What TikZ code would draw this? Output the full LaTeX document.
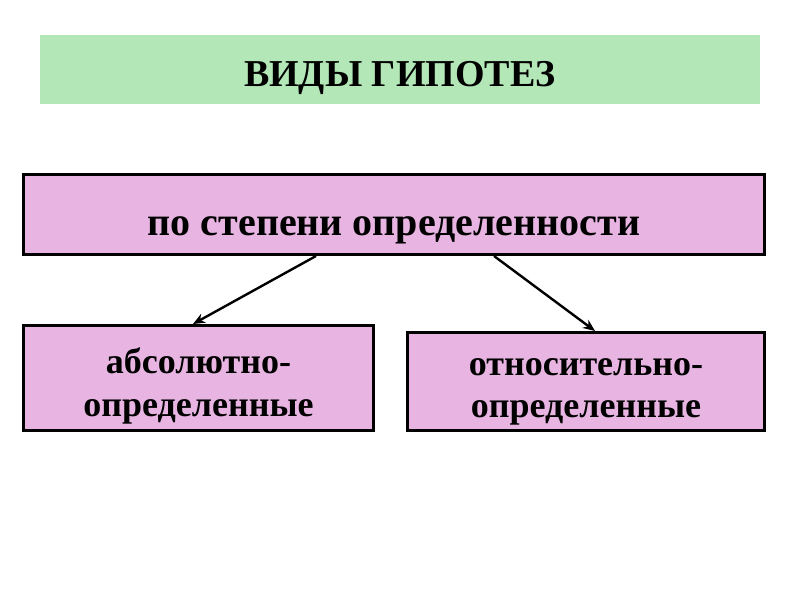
\documentclass[tikz,border=0pt]{standalone}
\usepackage{fontspec}
\setmainfont{Liberation Serif}
\usetikzlibrary{arrows.meta}

\definecolor{titlegreen}{RGB}{179,231,183}
\definecolor{boxpink}{RGB}{232,180,226}

\tikzset{
  titlebox/.style={rectangle,fill=titlegreen,font=\fontsize{38}{44}\selectfont\bfseries},
  kindbox/.style={rectangle,draw=black,line width=3pt,fill=boxpink,align=center},
  kindarrow/.style={line width=2.4pt,-{Stealth[length=12pt,width=10pt]}}
}

\begin{document}
\begin{tikzpicture}[x=1pt,y=-1pt]
\useasboundingbox (0,0) rectangle (800,600);
\node [titlebox,minimum width=720pt,minimum height=69pt,text height=33pt,text depth=0pt] (title) at (400,69.5) {ВИДЫ ГИПОТЕЗ};
\node [kindbox,minimum width=741pt,minimum height=80pt,text height=41pt,text depth=0pt,
       font=\fontsize{40}{46}\selectfont\bfseries] (degree) at (394,214.5) {по степени определенности};
\node [kindbox,minimum width=350pt,minimum height=105pt,text height=76pt,text depth=0pt,
       font=\fontsize{36}{43}\selectfont\bfseries] (absolute) at (198.5,378) {абсолютно-\\определенные};
\node [kindbox,minimum width=357pt,minimum height=98pt,text height=71pt,text depth=0pt,
       font=\fontsize{36}{42}\selectfont\bfseries] (relative) at (586,381.5) {относительно-\\определенные};
% arrows
\draw [kindarrow] ([xshift=-78pt]degree.south) -- ([xshift=-5.5pt]absolute.north);
\draw [kindarrow] ([xshift=100pt]degree.south) -- ([xshift=9pt]relative.north);
\end{tikzpicture}
\end{document}
